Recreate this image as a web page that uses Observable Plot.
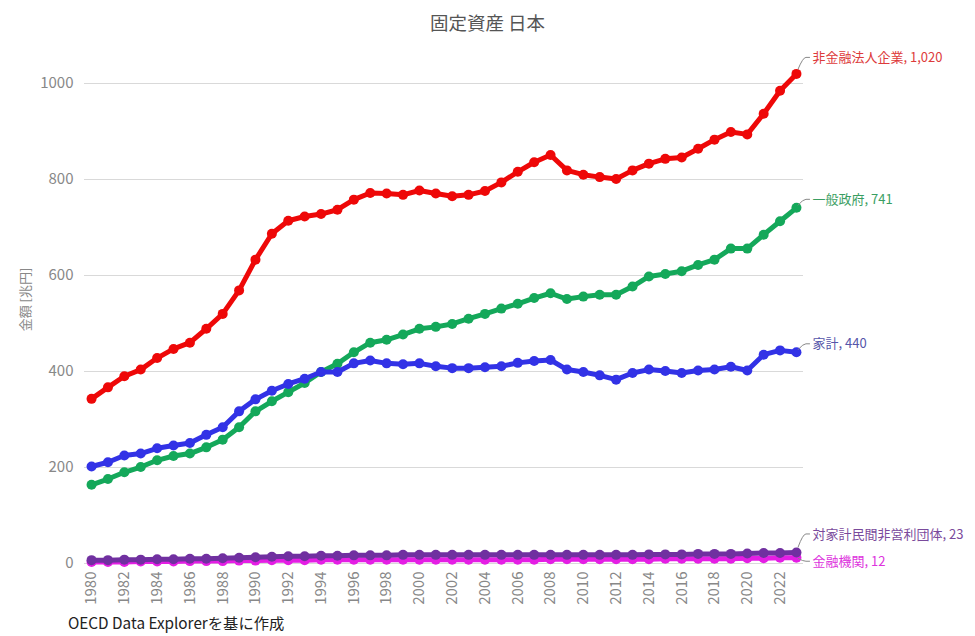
<!DOCTYPE html>
<html>
<head>
<meta charset="utf-8">
<script src="https://cdn.jsdelivr.net/npm/d3@7"></script>
<script src="https://cdn.jsdelivr.net/npm/@observablehq/plot@0.6"></script>
<style>
  body { margin: 0; background: #fff; font-family: "Noto Sans CJK JP", "Noto Sans", sans-serif; }
  #title { height: 40px; line-height: 44px; text-align: center; font-size: 18.5px; color: #555; }
  #caption { height: 24px; line-height: 20px; padding-left: 68px; font-size: 15.3px; color: #222; }
</style>
</head>
<body>
<div id="title">固定資産 日本</div>
<div id="chart"></div>
<div id="caption">OECD Data Explorerを基に作成</div>
<script>
const years = [1980,1981,1982,1983,1984,1985,1986,1987,1988,1989,1990,1991,1992,1993,1994,1995,1996,1997,1998,1999,2000,2001,2002,2003,2004,2005,2006,2007,2008,2009,2010,2011,2012,2013,2014,2015,2016,2017,2018,2019,2020,2021,2022,2023];
const xTicks = [1980,1982,1984,1986,1988,1990,1992,1994,1996,1998,2000,2002,2004,2006,2008,2010,2012,2014,2016,2018,2020,2022];
const yTicks = [0,200,400,600,800,1000];

const seriesNames = ["非金融法人企業", "一般政府", "家計", "対家計民間非営利団体", "金融機関"];
const nonFinancial = [343,367,390,404,428,447,460,489,520,569,633,687,714,723,728,737,758,772,771,768,777,771,765,768,776,794,816,836,851,819,810,805,801,819,833,843,846,864,883,899,894,937,985,1020];
const government = [164,176,190,201,215,224,229,242,258,284,317,338,357,376,399,416,440,460,466,477,489,493,499,510,520,531,541,553,563,551,556,560,560,577,598,603,609,622,633,656,656,685,713,741];
const households = [202,211,225,229,240,246,251,268,284,317,342,360,374,385,399,399,417,423,417,415,417,411,407,407,409,411,418,422,424,404,399,392,383,397,404,401,397,402,404,410,402,435,444,440];
const npish = [7,7,8,8,9,9,10,10,11,12,13,14,15,15,16,16,17,17,17,18,18,18,18,18,18,18,18,18,18,18,18,18,18,18,19,19,19,20,20,20,21,22,22,23];
const financial = [3,3,3,4,4,4,5,5,5,6,6,7,7,7,8,8,8,8,8,8,8,8,8,8,8,8,8,8,9,9,9,9,9,9,9,10,10,10,10,10,11,11,12,12];

const lineColors = ["#ee0808", "#14a85a", "#3232e6", "#7030a0", "#e41ee4"];
const labelColors = ["#dd3b3b", "#3a9e62", "#5555aa", "#7a4a9c", "#dd33dd"];
const labelDy = [-16, -8, -8, -18, 4];
const drawOrder = [4, 3, 1, 2, 0];

const valuesBySeries = [nonFinancial, government, households, npish, financial];
const rows = [];
valuesBySeries.forEach((vals, i) => vals.forEach((v, j) => rows.push({series: seriesNames[i], year: years[j], value: v})));
const lastRows = seriesNames.map((s, i) => ({series: s, year: years[years.length - 1], value: valuesBySeries[i][years.length - 1]}));

const font = '"Noto Sans CJK JP", "Noto Sans", sans-serif';
const marks = [
  Plot.gridY(yTicks, {stroke: "#d9d9d9", strokeOpacity: 1, strokeWidth: 1}),
  Plot.axisY({ticks: yTicks, tickSize: 0, tickPadding: 11, tickFormat: d => String(d), label: null, fontSize: 15, fill: "#888"}),
  Plot.axisX({ticks: xTicks, tickSize: 0, tickPadding: 8, tickRotate: -90, tickFormat: d => String(d), label: null, fontSize: 15, fill: "#888"}),
  Plot.text(["金額 [兆円]"], {frameAnchor: "left", dx: -59, dy: -24, rotate: -90, fontSize: 13, fill: "#888", textAnchor: "middle"})
];
for (const i of drawOrder) {
  const sub = rows.filter(r => r.series === seriesNames[i]);
  marks.push(Plot.line(sub, {x: "year", y: "value", stroke: lineColors[i], strokeWidth: 5}));
  marks.push(Plot.dot(sub, {x: "year", y: "value", fill: lineColors[i], r: 5}));
}
seriesNames.forEach((s, i) => {
  marks.push(Plot.text([lastRows[i]], {
    x: "year", y: "value",
    text: d => `${d.series}, ${d3.format(",")(d.value)}`,
    fill: labelColors[i], dx: 16, dy: labelDy[i], textAnchor: "start", fontSize: 13
  }));
});

const chart = Plot.plot({
  width: 975, height: 572,
  marginLeft: 84, marginRight: 172, marginTop: 43, marginBottom: 49,
  style: {fontFamily: font, background: "#fff"},
  x: {domain: [1979.57, 2023.43]},
  y: {domain: [0, 1000]},
  marks
});

// leader lines from the last point to each label, positioned through the chart's scales
const xs = chart.scale("x"), ys = chart.scale("y");
const svg = d3.select(chart);
lastRows.forEach((d, i) => {
  const px = xs.apply(d.year), py = ys.apply(d.value), dy = labelDy[i];
  svg.append("path")
    .attr("d", `M${px + 2},${py + dy * 0.25} Q${px + 7},${py + dy} ${px + 10},${py + dy} L${px + 14},${py + dy}`)
    .attr("fill", "none").attr("stroke", "#888").attr("stroke-width", 1);
});

document.getElementById("chart").appendChild(chart);
</script>
</body>
</html>
